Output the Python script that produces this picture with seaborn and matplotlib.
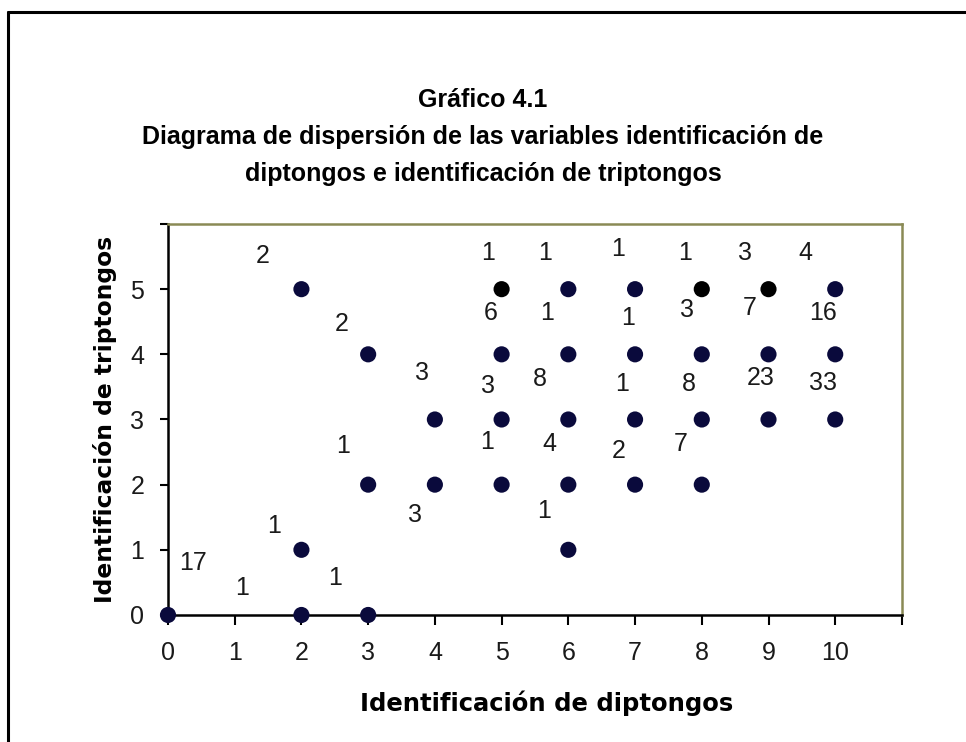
import pandas as pd
import seaborn as sns
import matplotlib.pyplot as plt
from matplotlib.lines import Line2D

# datos: puntos (diptongos, triptongos) y frecuencia de cada par
diptongos = [0, 2, 3, 2, 6, 3, 4, 5, 6, 7, 8,
             4, 5, 6, 7, 8, 9, 10,
             3, 5, 6, 7, 8, 9, 10,
             2, 5, 6, 7, 8, 9, 10]
triptongos = [0, 0, 0, 1, 1, 2, 2, 2, 2, 2, 2,
              3, 3, 3, 3, 3, 3, 3,
              4, 4, 4, 4, 4, 4, 4,
              5, 5, 5, 5, 5, 5, 5]
frecuencia = [17, 1, 1, 1, 1, 1, 3, 1, 4, 2, 7,
              3, 3, 8, 1, 8, 23, 33,
              2, 6, 1, 1, 3, 7, 16,
              2, 1, 1, 1, 1, 3, 4]

x_ticks = list(range(0, 12))
y_ticks = list(range(0, 7))
x_ticklabels = [str(v) for v in range(0, 11)] + [""]
y_ticklabels = [str(v) for v in range(0, 6)] + [""]

# desplazamiento de cada etiqueta respecto a su punto
dx = [0.37, -0.89, -0.50, -0.41, -0.36, -0.38, -0.30, -0.22, -0.29, -0.24, -0.32,
      -0.19, -0.20, -0.42, -0.19, -0.20, -0.12, -0.19,
      -0.39, -0.17, -0.32, -0.10, -0.22, -0.28, -0.18,
      -0.58, -0.20, -0.35, -0.25, -0.25, -0.35, -0.45]
dy = [0.79, 0.41, 0.57, 0.36, 0.59, 0.60, -0.47, 0.65, 0.63, 0.51, 0.63,
      0.71, 0.52, 0.62, 0.55, 0.55, 0.64, 0.56,
      0.47, 0.64, 0.64, 0.56, 0.68, 0.71, 0.64,
      0.51, 0.56, 0.56, 0.61, 0.56, 0.56, 0.56]

puntos_negros = [(5, 5), (8, 5), (9, 5)]

df = pd.DataFrame({"dip": diptongos, "trip": triptongos, "n": frecuencia})
df["negro"] = [(a, b) in puntos_negros for a, b in zip(diptongos, triptongos)]

sns.set_style("white")
plt.rcParams['font.family'] = ['Liberation Sans', 'DejaVu Sans']
num_font = ['Liberation Sans Narrow', 'Liberation Sans', 'DejaVu Sans']

fig = plt.figure(figsize=(9.66, 7.42), dpi=100)
ax = fig.add_axes([0.1739, 0.1712, 0.7598, 0.5269])

sns.scatterplot(data=df[~df["negro"]], x="dip", y="trip", color="#0a0a3c",
                s=135, edgecolor="none", ax=ax, clip_on=False, zorder=3)
sns.scatterplot(data=df[df["negro"]], x="dip", y="trip", color="black",
                s=135, edgecolor="none", ax=ax, clip_on=False, zorder=3)

for i in range(len(df)):
    ax.text(diptongos[i] + dx[i], triptongos[i] + dy[i], str(frecuencia[i]),
            ha="center", va="center", fontsize=18, color="#1a1a1a",
            family=num_font)

ax.set_xlim(0, 11)
ax.set_ylim(0, 6)
ax.set_xticks(x_ticks)
ax.set_xticklabels(x_ticklabels, family=num_font, fontsize=18, color="#1a1a1a")
ax.set_yticks(y_ticks)
ax.set_yticklabels(y_ticklabels, family=num_font, fontsize=18, color="#1a1a1a")
ax.tick_params(axis="x", direction="out", length=7, width=1.5, pad=12,
               bottom=True, color="black")
ax.tick_params(axis="y", direction="out", length=6, width=1.5, pad=11,
               left=True, color="black")

for side in ["left", "bottom"]:
    ax.spines[side].set_color("black")
    ax.spines[side].set_linewidth(1.8)
for side in ["top", "right"]:
    ax.spines[side].set_visible(True)
    ax.spines[side].set_color("#8a8a55")
    ax.spines[side].set_linewidth(1.8)

ax.set_xlabel("Identificación de diptongos", family="DejaVu Sans",
              fontweight="bold", fontsize=17.5, va="center", color="black")
ax.xaxis.set_label_coords(0.516, -0.225)
ax.set_ylabel("Identificación de triptongos", family="DejaVu Sans",
              fontweight="bold", fontsize=16.8, va="center", color="black")
ax.yaxis.set_label_coords(-0.086, 0.5)

fig.text(0.5, 0.815,
         "Gráfico 4.1\nDiagrama de dispersión de las variables identificación de\n"
         "diptongos e identificación de triptongos",
         ha="center", va="center", fontsize=18, fontweight="bold",
         linespacing=1.68, family="Liberation Sans", color="black")

# marco exterior
fig.add_artist(Line2D([0.0083, 0.0083], [0, 0.9838], color="black", lw=2.2))
fig.add_artist(Line2D([0.0083, 1.0], [0.9838, 0.9838], color="black", lw=2.2))

plt.savefig("out.png", dpi=100)
